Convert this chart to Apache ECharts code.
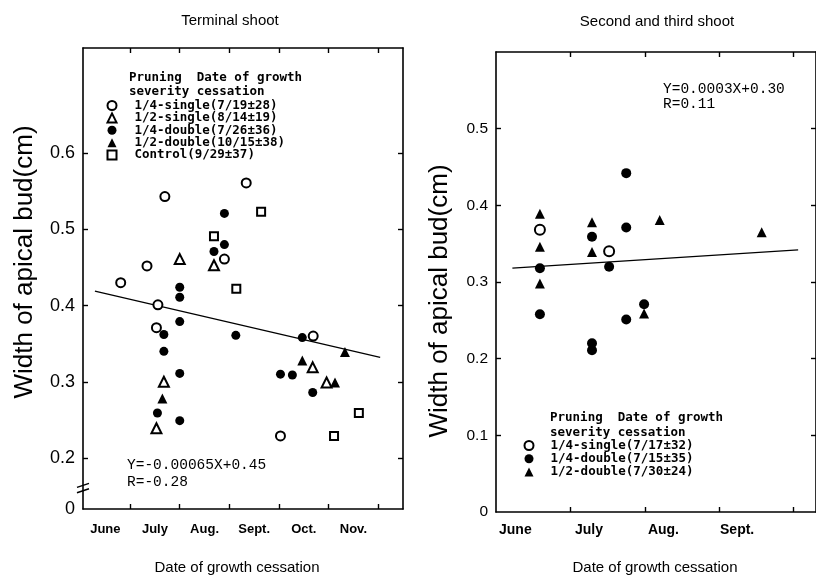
<!DOCTYPE html>
<html><head><meta charset="utf-8">
<script src="https://cdn.jsdelivr.net/npm/echarts@6/dist/echarts.min.js"></script>
<style>html,body{margin:0;padding:0;background:#fff}#c{width:816px;height:583px}</style>
</head><body><div id="c"></div>
<script>
// ---------- data (x = months after June 1, y = width of apical bud, cm) ----------
const leftMonths = ['June', 'July', 'Aug.', 'Sept.', 'Oct.', 'Nov.'];
const leftMonthTicks = [1, 2, 3, 4, 5, 6];
const leftMonthLabelPos = [0.5, 1.5, 2.5, 3.5, 4.5, 5.5];
const leftYTicks = [0.2, 0.3, 0.4, 0.5, 0.6];
const leftYLabels = ['0', '0.2', '0.3', '0.4', '0.5', '0.6'];

const rightMonths = ['June', 'July', 'Aug.', 'Sept.'];
const rightMonthTicks = [1, 2, 3, 4];
const rightMonthLabelPos = [0.26, 1.25, 2.25, 3.24];
const rightYTicks = [0.1, 0.2, 0.3, 0.4, 0.5];
const rightYLabels = ['0', '0.1', '0.2', '0.3', '0.4', '0.5'];

// Terminal shoot
const tQuarterSingle = [[0.81,0.430],[1.34,0.452],[1.70,0.543],[1.56,0.401],[1.53,0.371],[2.90,0.461],[3.34,0.561],[4.03,0.229],[4.69,0.360]];
const tHalfSingle = [[1.53,0.239],[1.68,0.300],[2.00,0.461],[2.69,0.453],[4.68,0.319],[4.96,0.299]];
const tQuarterDouble = [[1.55,0.259],[1.68,0.340],[1.68,0.362],[2.00,0.249],[2.00,0.311],[2.00,0.379],[2.00,0.411],[2.00,0.424],[2.69,0.471],[2.90,0.480],[2.90,0.521],[3.13,0.361],[4.03,0.310],[4.27,0.309],[4.47,0.358],[4.68,0.286]];
const tHalfDouble = [[1.65,0.278],[4.47,0.328],[5.13,0.299],[5.33,0.339]];
const tControl = [[2.69,0.491],[3.14,0.422],[3.64,0.523],[5.11,0.229],[5.61,0.259]];
const tFit = [[0.29,0.419],[6.04,0.332]];

// Second and third shoot
const sQuarterSingle = [[0.59,0.368],[1.52,0.340]];
const sQuarterDouble = [[0.59,0.318],[0.59,0.258],[1.29,0.359],[1.29,0.220],[1.29,0.211],[1.52,0.320],[1.75,0.442],[1.75,0.371],[1.75,0.251],[1.99,0.271]];
const sHalfDouble = [[0.59,0.389],[0.59,0.346],[0.59,0.298],[1.29,0.378],[1.29,0.339],[1.99,0.259],[2.20,0.381],[3.57,0.365]];
const sFit = [[0.22,0.318],[4.06,0.342]];

const tNames = ['1/4-single(7/19±28)', '1/2-single(8/14±19)', '1/4-double(7/26±36)', '1/2-double(10/15±38)', 'Control(9/29±37)'];
const sNames = ['1/4-single(7/17±32)', '1/4-double(7/15±35)', '1/2-double(7/30±24)'];

// ---------- chart ----------
const chart = echarts.init(document.getElementById('c'), null, {renderer: 'canvas'});
const BLACK = '#000';
const LEFT_YMIN = 0.1331;
const lineStyle = {color: BLACK, width: 1.6};

function lookup(pos, labels) {
  return function (v) {
    const i = pos.findIndex(p => Math.abs(p - v) < 1e-6);
    return i >= 0 ? labels[i] : '';
  };
}
function sc(name, data, symbol, size, gi, empty) {
  return {
    type: 'scatter', name, data, symbol, symbolSize: size,
    xAxisIndex: gi * 2, yAxisIndex: gi * 2,
    itemStyle: empty ? {color: BLACK, borderColor: BLACK, borderWidth: 1.4, opacity: 1} : {color: BLACK, opacity: 1},
    z: 3, silent: true
  };
}
function fit(data, gi) {
  return {type: 'line', data, symbol: 'none', xAxisIndex: gi * 2, yAxisIndex: gi * 2,
    lineStyle: {color: BLACK, width: 1.2}, z: 1, silent: true};
}
function xAx(gi, pos, min, max, ticks, labelPos, labels, fs, margin) {
  return {
    type: 'value', gridIndex: gi, position: pos, min, max,
    axisLine: {show: true, onZero: false, lineStyle},
    axisTick: {show: true, inside: true, length: 5, lineStyle: {color: BLACK, width: 1.4}, customValues: ticks},
    axisLabel: labels ? {show: true, customValues: labelPos, formatter: lookup(labelPos, labels),
      color: BLACK, fontSize: fs, fontWeight: 'bold', fontFamily: 'Liberation Sans, Arial, sans-serif', margin} : {show: false},
    splitLine: {show: false}
  };
}
function yAx(gi, pos, min, max, ticks, labelPos, labels, fs) {
  return {
    type: 'value', gridIndex: gi, position: pos, min, max,
    axisLine: {show: true, onZero: false, lineStyle},
    axisTick: {show: true, inside: true, length: 5, lineStyle: {color: BLACK, width: 1.4}, customValues: ticks},
    axisLabel: labels ? {show: true, customValues: labelPos, formatter: lookup(labelPos, labels),
      color: BLACK, fontSize: fs, fontFamily: 'Liberation Sans, Arial, sans-serif', margin: 8,
      showMinLabel: true, showMaxLabel: true} : {show: false},
    splitLine: {show: false}
  };
}

const legendText = {color: BLACK, fontSize: 12.5, fontWeight: 'bold', fontFamily: 'DejaVu Sans Mono, monospace', lineHeight: 9, padding: [0, 0, 0, 13]};
const mono = 'Liberation Mono, Courier New, monospace';
const sans = 'Liberation Sans, Arial, sans-serif';

function txt(x, y, text, font, extra) {
  return {type: 'text', x, y, silent: true,
    style: Object.assign({text, font, fill: BLACK, textAlign: 'left', textVerticalAlign: 'middle'}, extra || {})};
}

const option = {
  backgroundColor: '#fff',
  animation: false,
  grid: [
    {left: 83, top: 48, width: 320, height: 461},
    {left: 496, top: 52, width: 323, height: 460}
  ],
  xAxis: [
    xAx(0, 'bottom', 0.05, 6.5, leftMonthTicks, leftMonthLabelPos, leftMonths, 13, 14),
    xAx(0, 'top', 0.05, 6.5, leftMonthTicks, null, null),
    xAx(1, 'bottom', 0, 4.3, rightMonthTicks, rightMonthLabelPos, rightMonths, 14, 11),
    xAx(1, 'top', 0, 4.3, rightMonthTicks, null, null)
  ],
  yAxis: [
    yAx(0, 'left', LEFT_YMIN, 0.738, leftYTicks, [LEFT_YMIN].concat(leftYTicks), leftYLabels, 18),
    yAx(0, 'right', LEFT_YMIN, 0.738, leftYTicks, null, null),
    yAx(1, 'left', 0, 0.6, rightYTicks, [0].concat(rightYTicks), rightYLabels, 15.5),
    yAx(1, 'right', 0, 0.6, rightYTicks, null, null)
  ],
  legend: [
    {data: tNames, orient: 'vertical', left: 101.5, top: 94, itemWidth: 9, itemHeight: 9, itemGap: -0.6,
      textStyle: legendText, selectedMode: false, inactiveColor: BLACK},
    {data: sNames, orient: 'vertical', left: 518.5, top: 434, itemWidth: 9, itemHeight: 9, itemGap: 0.2,
      textStyle: Object.assign({}, legendText, {padding: [0, 0, 0, 12]}), selectedMode: false, inactiveColor: BLACK}
  ],
  series: [
    fit(tFit, 0),
    sc(tNames[0], tQuarterSingle, 'emptyCircle', 9, 0, true),
    sc(tNames[1], tHalfSingle, 'emptyTriangle', 10, 0, true),
    sc(tNames[2], tQuarterDouble, 'circle', 9, 0, false),
    sc(tNames[3], tHalfDouble, 'triangle', 10, 0, false),
    sc(tNames[4], tControl, 'emptyRect', 8, 0, true),
    fit(sFit, 1),
    sc(sNames[0], sQuarterSingle, 'emptyCircle', 10, 1, true),
    sc(sNames[1], sQuarterDouble, 'circle', 10, 1, false),
    sc(sNames[2], sHalfDouble, 'triangle', 10, 1, false)
  ],
  graphic: [
    txt(230, 21, 'Terminal shoot', '15px ' + sans, {textAlign: 'center'}),
    txt(657, 22, 'Second and third shoot', '15px ' + sans, {textAlign: 'center'}),
    txt(237, 568, 'Date of growth cessation', '15px ' + sans, {textAlign: 'center'}),
    txt(655, 568, 'Date of growth cessation', '15px ' + sans, {textAlign: 'center'}),
    {type: 'text', x: 25, y: 262, rotation: Math.PI / 2, silent: true,
      style: {text: 'Width of apical bud(cm)', font: '26px ' + sans, fill: BLACK, textAlign: 'center', textVerticalAlign: 'middle'}},
    {type: 'text', x: 440, y: 301, rotation: Math.PI / 2, silent: true,
      style: {text: 'Width of apical bud(cm)', font: '26px ' + sans, fill: BLACK, textAlign: 'center', textVerticalAlign: 'middle'}},
    txt(129, 78, 'Pruning  Date of growth', 'bold 12.5px DejaVu Sans Mono, monospace'),
    txt(129, 92, 'severity cessation', 'bold 12.5px DejaVu Sans Mono, monospace'),
    txt(550, 418, 'Pruning  Date of growth', 'bold 12.5px DejaVu Sans Mono, monospace'),
    txt(550, 433, 'severity cessation', 'bold 12.5px DejaVu Sans Mono, monospace'),
    txt(127, 465, 'Y=-0.00065X+0.45', '14.5px ' + mono),
    txt(127, 482, 'R=-0.28', '14.5px ' + mono),
    txt(663, 89, 'Y=0.0003X+0.30', '14.5px ' + mono),
    txt(663, 104, 'R=0.11', '14.5px ' + mono)
  ]
};
chart.setOption(option);

// axis-break marks on the left y axis
const xa = chart.convertToPixel({xAxisIndex: 0}, 0.05);
const yb1 = chart.convertToPixel({yAxisIndex: 0}, 0.157);
const yb2 = chart.convertToPixel({yAxisIndex: 0}, 0.164);
chart.setOption({graphic: option.graphic.concat([
  {type: 'line', silent: true, shape: {x1: xa - 6, y1: yb2 + 2, x2: xa + 6, y2: yb2 - 2}, style: {stroke: BLACK, lineWidth: 1.4}},
  {type: 'line', silent: true, shape: {x1: xa - 6, y1: yb1 + 2, x2: xa + 6, y2: yb1 - 2}, style: {stroke: BLACK, lineWidth: 1.4}}
])});
</script>
</body></html>
